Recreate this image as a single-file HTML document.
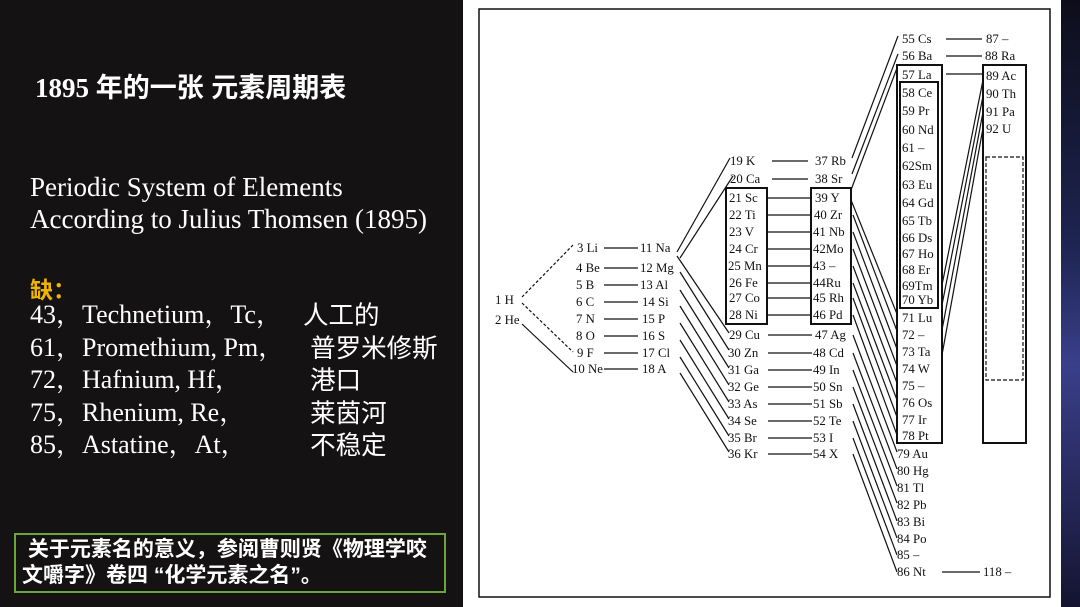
<!DOCTYPE html>
<html><head><meta charset="utf-8"><style>
body{margin:0;width:1080px;height:607px;overflow:hidden;background:#141213;position:relative;font-family:"Liberation Serif","Noto Serif CJK SC",serif}
.l{position:absolute;color:#fff;white-space:nowrap}
.cj{font-family:"Liberation Sans","Noto Sans CJK SC",sans-serif}
svg{position:absolute;left:0;top:0}
svg text{font-family:"Liberation Serif",serif;font-size:12.8px;fill:#111}
</style></head><body>
<div style="position:absolute;left:1061px;top:0;width:19px;height:607px;background:linear-gradient(180deg,#0d0d1a,#1d2450 40%,#3a3f8a 60%,#141430)"></div>
<div style="position:absolute;left:463px;top:0;width:598px;height:607px;background:#fff"></div>
<div class="l" style="left:35px;top:66px;font-size:27px;font-weight:bold"><span style="font-family:'Liberation Serif',serif">1895</span> <span class="cj">年的一张 元素周期表</span></div>
<div class="l" style="left:30px;top:171px;font-size:27px;line-height:32px">Periodic System of Elements<br>According to Julius Thomsen (1895)</div>
<div class="l cj" style="left:30px;top:271px;font-size:23px;font-weight:bold;color:#f0b400">缺：</div>
<div class="l" style="left:30px;top:299px;font-size:26px;line-height:32.5px">43，Technetium，Tc，<br>61，Promethium, Pm，<br>72，Hafnium, Hf，<br>75，Rhenium, Re，<br>85，Astatine，At，</div>
<div class="l cj" style="left:303px;top:300px;font-size:25.5px;line-height:32.5px">人工的<br>&nbsp;普罗米修斯<br>&nbsp;港口<br>&nbsp;莱茵河<br>&nbsp;不稳定</div>
<div style="position:absolute;left:14px;top:533px;width:428px;height:56px;border:2px solid #6aa63a"></div>
<div class="l cj" style="left:22px;top:537px;font-size:21px;font-weight:bold;line-height:26px">&nbsp;关于元素名的意义，参阅曹则贤《物理学咬<br>文嚼字》卷四 “化学元素之名”。</div>
<svg width="1080" height="607" viewBox="0 0 1080 607">
<g fill="none" stroke="#111" stroke-width="1.2">
<rect x="479" y="9" width="571" height="588" stroke-width="1.5"/>
<rect x="726" y="188" width="41" height="136" stroke-width="2"/>
<rect x="811" y="188" width="40" height="136" stroke-width="2"/>
<rect x="897" y="65" width="45" height="378" stroke-width="2"/>
<rect x="900" y="82" width="38" height="226" stroke-width="2"/>
<rect x="983" y="65" width="43" height="378" stroke-width="2"/>
<rect x="986" y="157" width="37" height="223" stroke-dasharray="4,2"/>
<path d="M522,297 L573,245 M522,303 L573,352" stroke-dasharray="3,2"/>
<path d="M522,324 L573,372"/>
<path d="M604,248H638M604,268H638M604,285H638M604,302H638M604,319H638M604,336H638M604,353H638M604,369H638"/>
<path d="M677,252L730,158M680,258L733,176M677,256L729,333M680,272L729,350M680,290L729,368M680,306L729,385M680,323L729,402M680,340L729,419M680,357L729,436M680,373L729,452"/>
<path d="M772,161H808M772,179H808M768,198H812M768,215H812M768,232H812M768,249H812M768,266H812M768,283H812M768,298H812M768,315H812M768,335H812M768,353H812M768,370H812M768,387H812M768,404H812M768,421H812M768,438H812M768,454H812"/>
<path d="M852,158L898,36M852,174L898,54M851,190L897,68M851,200L897,314M853,215L897,331M853,232L897,349M853,249L897,366M853,266L897,383M853,283L897,400M853,298L897,417M853,315L897,435M853,335L897,452M853,353L897,469M853,370L897,486M853,387L897,503M853,404L897,521M853,421L897,538M853,438L897,555M853,454L897,572"/>
<path d="M946,39H982M946,56H982M946,74H983M942,285L983,80M942,305L983,96M942,330L983,112M942,355L983,128M942,572H980"/>
</g>
<g>
<text x="495" y="304">1 H</text><text x="495" y="324">2 He</text>
<text x="577" y="252">3 Li</text><text x="576" y="272">4 Be</text><text x="576" y="289">5 B</text><text x="576" y="306">6 C</text><text x="576" y="323">7 N</text><text x="576" y="340">8 O</text><text x="577" y="357">9 F</text><text x="572" y="373">10 Ne</text>
<text x="640" y="252">11 Na</text><text x="640" y="272">12 Mg</text><text x="640" y="289">13 Al</text><text x="642" y="306">14 Si</text><text x="642" y="323">15 P</text><text x="642" y="340">16 S</text><text x="642" y="357">17 Cl</text><text x="642" y="373">18 A</text>
<text x="730" y="165">19 K</text><text x="730" y="183">20 Ca</text><text x="729" y="202">21 Sc</text><text x="729" y="219">22 Ti</text><text x="729" y="236">23 V</text><text x="729" y="253">24 Cr</text><text x="728" y="270">25 Mn</text><text x="729" y="287">26 Fe</text><text x="729" y="302">27 Co</text><text x="729" y="319">28 Ni</text><text x="729" y="339">29 Cu</text><text x="728" y="357">30 Zn</text><text x="728" y="374">31 Ga</text><text x="728" y="391">32 Ge</text><text x="728" y="408">33 As</text><text x="728" y="425">34 Se</text><text x="728" y="442">35 Br</text><text x="728" y="458">36 Kr</text>
<text x="815" y="165">37 Rb</text><text x="815" y="183">38 Sr</text><text x="815" y="202">39 Y</text><text x="814" y="219">40 Zr</text><text x="813" y="236">41 Nb</text><text x="813" y="253">42Mo</text><text x="813" y="270">43 –</text><text x="813" y="287">44Ru</text><text x="813" y="302">45 Rh</text><text x="813" y="319">46 Pd</text><text x="815" y="339">47 Ag</text><text x="813" y="357">48 Cd</text><text x="813" y="374">49 In</text><text x="813" y="391">50 Sn</text><text x="813" y="408">51 Sb</text><text x="813" y="425">52 Te</text><text x="813" y="442">53 I</text><text x="813" y="458">54 X</text>
<text x="902" y="43">55 Cs</text><text x="902" y="60">56 Ba</text><text x="902" y="79">57 La</text>
<text x="902" y="97">58 Ce</text><text x="902" y="115">59 Pr</text><text x="902" y="134">60 Nd</text><text x="902" y="152">61 –</text><text x="902" y="170">62Sm</text><text x="902" y="189">63 Eu</text><text x="902" y="207">64 Gd</text><text x="902" y="225">65 Tb</text><text x="902" y="242">66 Ds</text><text x="902" y="258">67 Ho</text><text x="902" y="274">68 Er</text><text x="902" y="290">69Tm</text><text x="902" y="304">70 Yb</text>
<text x="902" y="322">71 Lu</text><text x="902" y="339">72 –</text><text x="902" y="356">73 Ta</text><text x="902" y="373">74 W</text><text x="902" y="390">75 –</text><text x="902" y="407">76 Os</text><text x="902" y="424">77 Ir</text><text x="902" y="440">78 Pt</text>
<text x="897" y="458">79 Au</text><text x="897" y="475">80 Hg</text><text x="897" y="492">81 Tl</text><text x="897" y="509">82 Pb</text><text x="897" y="526">83 Bi</text><text x="897" y="543">84 Po</text><text x="897" y="559">85 –</text><text x="897" y="576">86 Nt</text>
<text x="986" y="43">87 –</text><text x="985" y="60">88 Ra</text><text x="986" y="80">89 Ac</text><text x="986" y="98">90 Th</text><text x="986" y="116">91 Pa</text><text x="986" y="133">92 U</text>
<text x="983" y="576">118 –</text>
</g>
</svg>
</body></html>
